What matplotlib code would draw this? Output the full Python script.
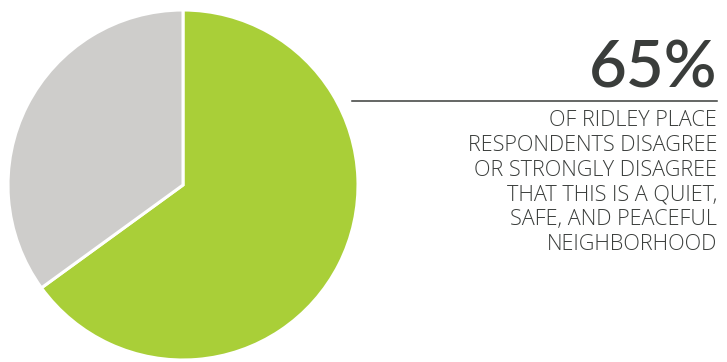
import matplotlib.pyplot as plt

# Share of respondents: disagree / strongly disagree vs. everyone else
shares = [65, 35]
colors = ["#A9CF38", "#CECDCB"]
headline = "65%"
caption = ["OF RIDLEY PLACE",
           "RESPONDENTS DISAGREE",
           "OR STRONGLY DISAGREE",
           "THAT THIS IS A QUIET,",
           "SAFE, AND PEACEFUL",
           "NEIGHBORHOOD"]

W, H = 727, 362
fig = plt.figure(figsize=(W / 100, H / 100), dpi=100)
ax = fig.add_axes([0, 0, 1, 1])

ax.pie(shares, colors=colors, startangle=90, counterclock=False,
       center=(183, H - 185), radius=175,
       wedgeprops={"edgecolor": "white", "linewidth": 2.2})

# axes spans the whole figure, so data units are pixels
ax.set_xlim(0, W)
ax.set_ylim(0, H)
ax.set_aspect("equal")
ax.axis("off")

dark = "#3A3D3B"
ax.text(717, H - 88, headline, ha="right", va="baseline", fontsize=47,
        color=dark, family="Lato", fontweight="semibold")
ax.plot([352, 717], [H - 101, H - 101], color=dark, linewidth=1.1)

for i, line in enumerate(caption):
    ax.text(717, H - 126 - i * 24.8, line, ha="right", va="baseline",
            fontsize=15.6, color=dark, family="Open Sans", fontweight="light")

fig.savefig("out.png", dpi=100)
